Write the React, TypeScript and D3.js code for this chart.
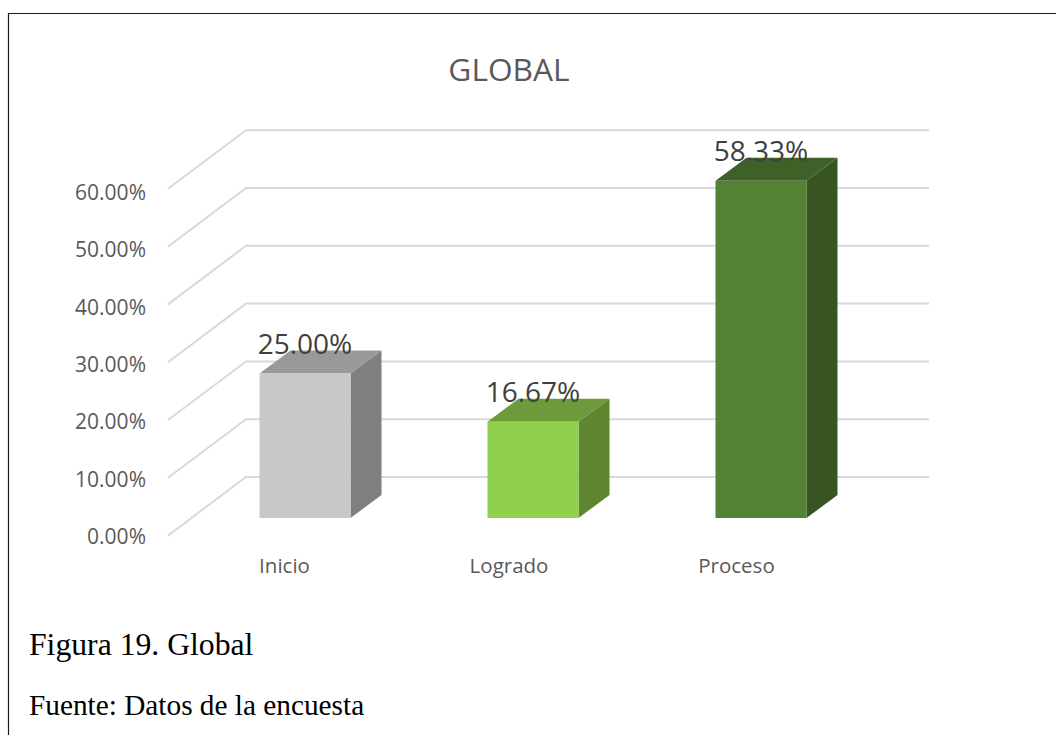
import React from "react";
import * as d3 from "d3";

const categories = ["Inicio", "Logrado", "Proceso"];
const values = [25.0, 16.67, 58.33];
const valueLabels = ["25.00%", "16.67%", "58.33%"];
const ticks = [0, 10, 20, 30, 40, 50, 60];
const frontColors = ["#c8c8c8", "#8fd14f", "#548235"];
const topColors = ["#999999", "#6f9a3b", "#3f6128"];
const sideColors = ["#7f7f7f", "#5f8531", "#375421"];

const W = 1056;
const H = 735;
const UI_FONT = "'Open Sans', 'Noto Sans', sans-serif";
const SERIF = "'Liberation Serif', serif";

// Wall plane offset from the floor's front edge
const wallDx = 78;
const wallDy = -58.6;
// Extrusion depth of each column
const barDx = 31;
const barDy = -23;
// Category captions sit left of their columns by a slightly varying amount
const captionShift = [-20.5, -24, -24.5];

const y = d3.scaleLinear().domain([0, 60]).range([535.6, 188.8]);
// Axis label baselines run on a marginally tighter pitch than the gridlines
const labelY = d3.scaleLinear().domain([0, 60]).range([544.3, 199.8]);
const x = d3
  .scaleBand()
  .domain(categories)
  .range([191, 875])
  .paddingInner(1 - 91 / 228)
  .paddingOuter((1 - 91 / 228) / 2);
const barBaseShift = 518 - y(0);

export default function App() {
  const line = d3.line();
  return (
    <svg width={W} height={H} style={{ position: "absolute", left: 0, top: 0, background: "#fff" }}>
      <path d="M8.5 735V13.5H1056" fill="none" stroke="#1a1a1a" strokeWidth={1.2} />

      <text x={509} y={81} textAnchor="middle" fontFamily={UI_FONT} fontSize={31.7} fill="#595959">GLOBAL</text>

      {ticks.map((t) => (
        <g key={t}>
          <path
            d={line([[168, y(t)], [168 + wallDx, y(t) + wallDy], [929, y(t) + wallDy]]) ?? ""}
            fill="none" stroke="#d9d9d9" strokeWidth={2}
          />
          <text x={146} y={labelY(t)} textAnchor="end" fontFamily={UI_FONT} fontSize={21} fill="#595959">
            {t.toFixed(2)}%
          </text>
        </g>
      ))}

      {categories.map((c, i) => {
        const bx = x(c) ?? 0;
        const bw = x.bandwidth();
        const base = y(0) + barBaseShift;
        const top = y(values[i]) + barBaseShift;
        const poly = (pts: [number, number][]) => pts.map((p) => p.join(",")).join(" ");
        return (
          <g key={c}>
            <polygon fill={sideColors[i]} points={poly([[bx + bw, base], [bx + bw + barDx, base + barDy], [bx + bw + barDx, top + barDy], [bx + bw, top]])} />
            <polygon fill={topColors[i]} points={poly([[bx, top], [bx + barDx, top + barDy], [bx + bw + barDx, top + barDy], [bx + bw, top]])} />
            <rect x={bx} y={top} width={bw} height={base - top} fill={frontColors[i]} />
            <text x={bx + bw / 2} y={top - 20} textAnchor="middle" fontFamily={UI_FONT} fontSize={28} fill="#404040">
              {valueLabels[i]}
            </text>
            <text x={bx + bw / 2 + captionShift[i]} y={573} textAnchor="middle" fontFamily={UI_FONT} fontSize={20.5} fill="#595959">
              {c}
            </text>
          </g>
        );
      })}

      <text x={29} y={655} fontFamily={SERIF} fontSize={31.7} fill="#000">Figura 19. Global</text>
      <text x={29} y={714.5} fontFamily={SERIF} fontSize={29.3} fill="#000">Fuente: Datos de la encuesta</text>
    </svg>
  );
}
